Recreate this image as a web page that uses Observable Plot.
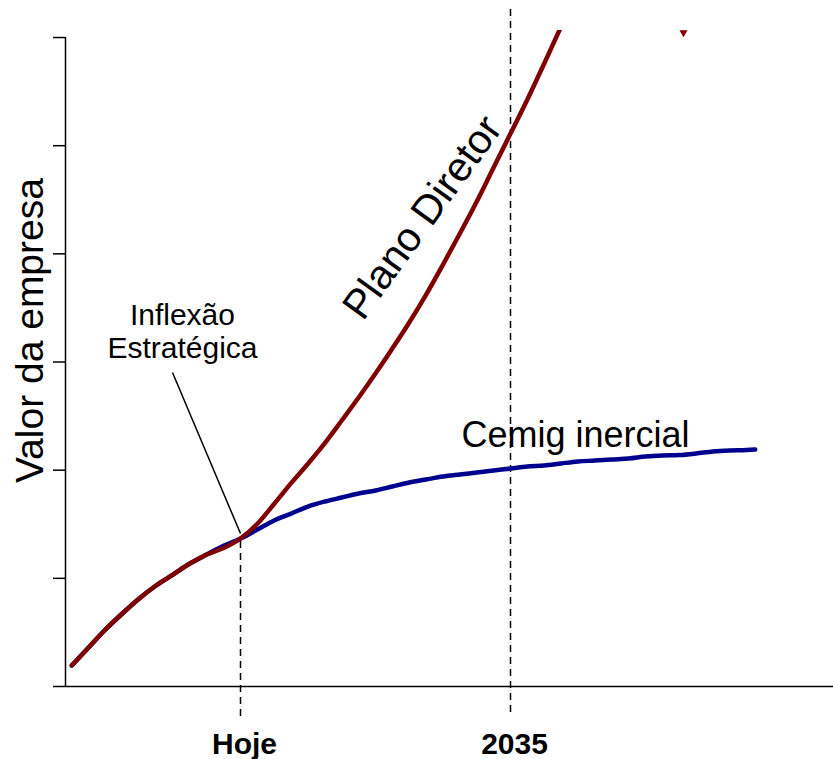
<!DOCTYPE html>
<html>
<head>
<meta charset="utf-8">
<script src="https://cdn.jsdelivr.net/npm/d3@7"></script>
<script src="https://cdn.jsdelivr.net/npm/@observablehq/plot@0.6"></script>
<style>
  body { margin: 0; background: #fff; }
</style>
</head>
<body>
<div id="chart"></div>
<script>
// --- Data ---
const anosInercial = [2009,2010,2011,2012,2013,2014,2015,2016,2017,2018,2019,
  2020,2021,2022,2023,2024,2025,2026,2027,2028,2029,2030,2031,2032,2033,2034,
  2035,2036,2037,2038,2039,2040,2041,2042,2043,2044,2045,2046,2047,2048,2049,2049.5];
const valorInercial = [0.194,0.361,0.527,0.675,0.814,0.934,1.035,1.137,1.220,1.300,1.368,
  1.451,1.535,1.599,1.664,1.710,1.747,1.784,1.812,1.849,1.886,1.914,1.941,1.960,1.978,1.997,
  2.015,2.034,2.043,2.062,2.080,2.089,2.099,2.108,2.126,2.136,2.140,2.154,2.173,2.182,2.186,2.191];

const anosPlano = [2009,2010,2011,2012,2013,2014,2015,2016,2017,2018,2019,
  2020,2021,2022,2023,2024,2025,2026,2027,2028,2029,2030,2031,2032,2033,2034,
  2035,2036,2037,2038];
const valorPlano = [0.194,0.361,0.527,0.675,0.814,0.934,1.035,1.137,1.220,1.280,1.368,
  1.505,1.690,1.880,2.060,2.250,2.459,2.672,2.894,3.125,3.365,3.624,3.901,4.188,4.484,4.798,
  5.112,5.427,5.760,6.102];

const marcosAnos = [2019, 2035];
const marcosRotulos = ["Hoje", "2035"];
const yTicks = [0, 1, 2, 3, 4, 5, 6];

const serieInercial = anosInercial.map((a, i) => ({ano: a, valor: valorInercial[i]}));
const seriePlano = anosPlano.map((a, i) => ({ano: a, valor: valorPlano[i]}));

const xMin = 2008.63, xMax = 2054.14;
const font = "'Liberation Sans', Arial, sans-serif";

const chart = Plot.plot({
  width: 833,
  height: 759,
  marginLeft: 65,
  marginRight: 0,
  marginTop: 30,
  marginBottom: 73,
  style: {fontFamily: font, background: "white", overflow: "visible", color: "black"},
  x: {domain: [xMin, xMax]},
  y: {domain: [0, 6.065]},
  marks: [
    // axes
    Plot.axisY(yTicks, {tickSize: 12, tickFormat: () => "", label: null, strokeWidth: 1.5}),
    Plot.ruleX([xMin], {y1: 0, y2: 6, strokeWidth: 1.5}),
    Plot.ruleY([0], {strokeWidth: 1.5}),
    Plot.axisX(marcosAnos, {
      tickSize: 0, tickPadding: 46, label: null,
      tickFormat: d => marcosRotulos[marcosAnos.indexOf(d)],
      fontSize: 30, fontWeight: "bold", dx: 4
    }),
    // dashed reference lines
    Plot.ruleX([{x: 2019, y1: -0.277, y2: 1.37}, {x: 2035, y1: -0.240, y2: 6.296}], {
      x: "x", y1: "y1", y2: "y2", strokeDasharray: "7,5", strokeWidth: 1.5
    }),
    // series
    Plot.line(serieInercial, {x: "ano", y: "valor", stroke: "#00008f", strokeWidth: 4.5, curve: "monotone-x", clip: true}),
    Plot.line(seriePlano, {x: "ano", y: "valor", stroke: "#800000", strokeWidth: 4.5, curve: "monotone-x", clip: true}),
    Plot.dot([{ano: 2045.25, valor: 6.046}], {x: "ano", y: "valor", r: 3, symbol: "triangle", rotate: 180, fill: "#800000"}),
    // leader line
    Plot.link([{x1: 2014.97, y1: 2.903, x2: 2019, y2: 1.414}], {
      x1: "x1", y1: "y1", x2: "x2", y2: "y2", stroke: "black", strokeWidth: 1.5
    }),
    // annotations
    Plot.text(["Inflexão"], {x: 2015.56, y: 3.433, fontSize: 30, textAnchor: "middle"}),
    Plot.text(["Estratégica"], {x: 2015.56, y: 3.128, fontSize: 30, textAnchor: "middle"}),
    Plot.text(["Cemig inercial"], {x: 2038.85, y: 2.325, fontSize: 36, textAnchor: "middle"}),
    Plot.text(["Plano Diretor"], {x: 2029.79, y: 4.336, fontSize: 41, rotate: -54, textAnchor: "middle"}),
    Plot.text(["Valor da empresa"], {x: 2006.56, y: 3.291, fontSize: 39, rotate: -90, textAnchor: "middle"})
  ]
});
document.getElementById("chart").appendChild(chart);
</script>
</body>
</html>
